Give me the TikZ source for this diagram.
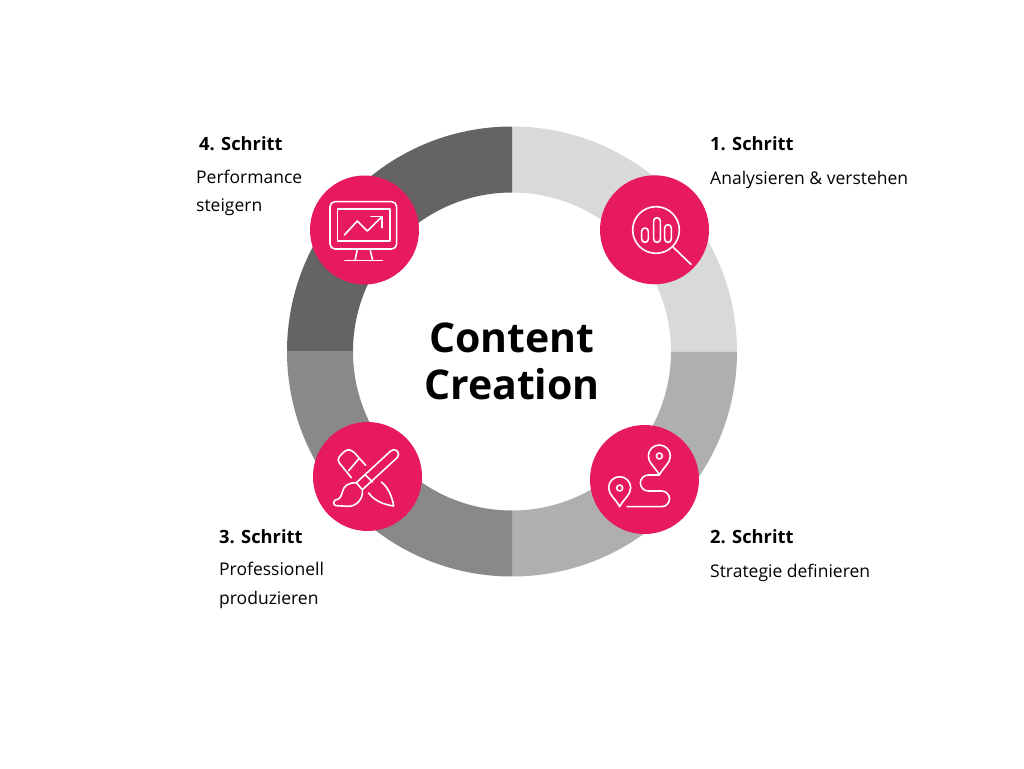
\documentclass[tikz,border=0pt]{standalone}
\usepackage{fontspec}
\setmainfont{Open Sans}
\definecolor{pinkc}{HTML}{E71A5E}
\definecolor{segA}{HTML}{D9D9D9}
\definecolor{segB}{HTML}{AFAFAF}
\definecolor{segC}{HTML}{898989}
\definecolor{segD}{HTML}{646464}
\tikzset{
  badge/.style={circle,fill=pinkc,minimum size=109pt,inner sep=0pt,outer sep=0pt},
  head/.style={anchor=base west,inner sep=0pt,font=\fontsize{18.3}{22}\selectfont\bfseries},
  body/.style={anchor=base west,inner sep=0pt,font=\fontsize{17.5}{20}\selectfont},
  title/.style={anchor=base,inner sep=0pt,font=\fontsize{41}{48}\selectfont\bfseries},
  icon/.style={draw=white,line width=1.6pt,line join=round,line cap=round},
  zoomed/.style={x=0.33333pt,y=-0.33333pt}
}
\begin{document}
\begin{tikzpicture}[x=1pt,y=-1pt]
\useasboundingbox[fill=white] (0,0) rectangle (1024,768);
% ring
\def\cx{512}\def\cy{351.5}\def\ro{225}\def\ri{159}
\fill[segA] (\cx,\cy-\ro) arc[start angle=-90,end angle=0,radius=\ro] -- (\cx+\ri,\cy) arc[start angle=0,end angle=-90,radius=\ri] -- cycle;
\fill[segB] (\cx+\ro,\cy) arc[start angle=0,end angle=90,radius=\ro] -- (\cx,\cy+\ri) arc[start angle=90,end angle=0,radius=\ri] -- cycle;
\fill[segC] (\cx,\cy+\ro) arc[start angle=90,end angle=180,radius=\ro] -- (\cx-\ri,\cy) arc[start angle=180,end angle=90,radius=\ri] -- cycle;
\fill[segD] (\cx-\ro,\cy) arc[start angle=180,end angle=270,radius=\ro] -- (\cx,\cy-\ri) arc[start angle=270,end angle=180,radius=\ri] -- cycle;
% badges
\node[badge] (b1) at (654.5,229.8) {};
\node[badge] (b2) at (644.5,479.5) {};
\node[badge] (b3) at (367.5,476.5) {};
\node[badge] (b4) at (364.5,230) {};
% icon 1
\begin{scope}[shift={(590,165)},zoomed]
\draw[icon] (198,195) circle[radius=70];
\draw[icon] (155,199) arc[start angle=180,end angle=360,radius=10] -- (175,222) arc[start angle=0,end angle=180,radius=10] -- cycle;
\draw[icon] (191,168) arc[start angle=180,end angle=360,radius=10] -- (211,222) arc[start angle=0,end angle=180,radius=10] -- cycle;
\draw[icon] (224,189) arc[start angle=180,end angle=360,radius=10] -- (244,222) arc[start angle=0,end angle=180,radius=10] -- cycle;
\draw[icon] (250,247) -- (303,298);
\end{scope}
% icon 2
\begin{scope}[shift={(580,415)},zoomed]
\draw[icon] (238,180) .. controls (225,155) and (205,145) .. (205,123) arc[start angle=180,end angle=360,radius=33] .. controls (271,145) and (251,155) .. (238,180) -- cycle;
\draw[icon] (238,123) circle[radius=9];
\draw[icon] (119,275) .. controls (106,250) and (86,240) .. (86,218) arc[start angle=180,end angle=360,radius=33] .. controls (152,240) and (132,250) .. (119,275) -- cycle;
\draw[icon] (119,219) circle[radius=9];
\draw[icon] (238,180) -- (205,180) arc[start angle=-90,end angle=-270,radius=24] -- (245,228) arc[start angle=-90,end angle=90,radius=23.5] -- (141,275);
\end{scope}
% icon 3
\begin{scope}[shift={(303,412)},zoomed]
\draw[icon,rounded corners=4pt] (145,197) -- (101,143) -- (128,113) -- (146,113) -- (188,160);
\draw[icon] (137,176) -- (168,140);
\draw[icon] (160,212) -- (263,117) arc[start angle=-135,end angle=45,radius=14] -- (178,233);
\draw[icon] (186,188) -- (209,210);
\draw[icon] (160,212) .. controls (135,212) and (122,222) .. (118,240) .. controls (114,258) and (108,262) .. (97,264) .. controls (90,268) and (90,280) .. (100,281) -- (135,283) .. controls (160,284) and (182,260) .. (178,233) -- cycle;
\draw[icon] (235,210) .. controls (255,225) and (268,255) .. (272,282) .. controls (245,278) and (215,268) .. (197,243);
\end{scope}
% icon 4
\begin{scope}[shift={(300,165)},zoomed]
\draw[icon,rounded corners=5pt] (90,110) rectangle (290,252);
\draw[icon] (112,132) rectangle (270,228);
\draw[icon] (172,252) -- (165,287);
\draw[icon] (210,252) -- (218,287);
\draw[icon] (135,287) -- (247,287);
\draw[icon] (133,210) -- (172,168) -- (202,198) -- (246,155);
\draw[icon] (213,155) -- (246,155) -- (246,188);
\end{scope}
% texts
\node[title] (t1) at (512,352) {Content};
\node[title] (t2) at (512,399) {Creation};
\node[head] (h1) at (710,150) {1. Schritt};
\node[body] (d1) at (710,184) {Analysieren \& verstehen};
\node[head] (h2) at (710,543) {2. Schritt};
\node[body] (d2) at (710,577) {Strategie definieren};
\node[head] (h3) at (219,543) {3. Schritt};
\node[body] (d3a) at (219,575) {Professionell};
\node[body] (d3b) at (219,604) {produzieren};
\node[head] (h4) at (199,150) {4. Schritt};
\node[body] (d4a) at (196,183) {Performance};
\node[body] (d4b) at (196,211) {steigern};
\end{tikzpicture}
\end{document}
